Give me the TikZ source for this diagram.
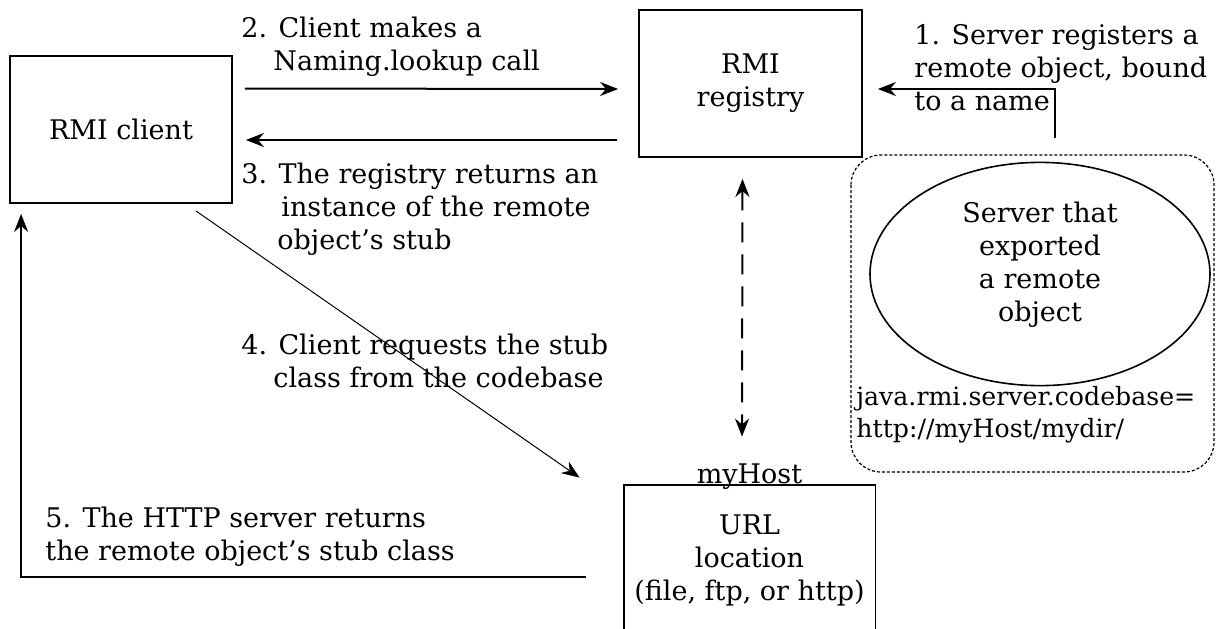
\documentclass[tikz,border=0pt]{standalone}
\usepackage{fontspec}
\setmainfont{DejaVu Serif}
\usetikzlibrary{arrows.meta,shapes.geometric}

\tikzset{
  box/.style={draw, line width=0.9pt},
  arr/.style={line width=1pt, -{Stealth[length=9pt,width=7pt]}},
  dbl/.style={line width=1pt, dash pattern=on 10pt off 6pt, {Stealth[length=9pt,width=7pt]}-{Stealth[length=9pt,width=7pt]}},
  grp/.style={line width=0.6pt, dash pattern=on 1.5pt off 1pt, rounded corners=15pt},
  lbl/.style={anchor=north west, align=left, inner sep=0pt},
}

\begin{document}
\begin{tikzpicture}[x=0.5pt, y=-0.5pt, font=\fontsize{13.5}{16.5}\selectfont]
	\useasboundingbox (0,0) rectangle (1216,628);
	
	% client und registry
	\node[box, minimum width=111pt, minimum height=73.5pt] (client) at (121,129.5) {RMI client};
	\node[box, align=center, minimum width=111.5pt, minimum height=73.5pt] (reg) at (750.5,83.5) {RMI\\registry};
	
	% URL location, unten offen
	\node[align=center, minimum width=125.5pt, minimum height=75pt] (url) at (749.5,560) {URL\\location\\(file, ftp, or http)};
	\draw[line width=0.9pt] (url.south west) -- (url.north west) -- (url.north east) -- (url.south east);
	\node[anchor=base, inner sep=0pt] (host) at ([yshift=0.5pt]url.north) {myHost};
	
	% server
	\draw[grp] (851,155) rectangle (1214,472);
	\node[ellipse, draw, line width=0.8pt, minimum width=170pt, minimum height=108pt, align=center] (server) at (1040,274) {Server that\\exported\\a remote\\object\\[-4pt]};
	\node[anchor=west, align=left, inner sep=0pt, font=\fontsize{12.6}{16}\selectfont] (cb) at (856,415) {java.rmi.server.codebase=\\http://myHost/mydir/};
	
	% Pfeile
	\coordinate (bind) at (1055,138);
	\draw[arr] (bind) |- ([shift={(15,5.5)}]reg.east);
	\draw[arr] ([shift={(12,-41)}]client.east) -- ([shift={(-20,5.5)}]reg.west);
	\draw[arr] ([shift={(-21,56.5)}]reg.west) -- ([shift={(13,10.5)}]client.east);
	\draw[arr, line width=0.5pt] ([shift={(-37,7)}]client.south east) -- ([shift={(-44,-7)}]url.north west);
	\draw[arr] ([shift={(-38,17)}]url.west) -| ([shift={(12,10)}]client.south west);
	\draw[dbl] ([shift={(-8,21)}]reg.south) -- ([shift={(-7.5,-48)}]url.north);
	
	% Beschriftung
	\node[lbl] (l1) at (914,24) {1. Server registers a\\remote object, bound\\to a name};
	\node[lbl] (l2) at (241,17) {2. Client makes a\\\hspace*{16pt}Naming.lookup call};
	\node[lbl] (l3) at (241,163) {3. The registry returns an\\\hspace*{20pt}instance of the remote\\\hspace*{18pt}object’s stub};
	\node[lbl] (l4) at (241,334) {4. Client requests the stub\\\hspace*{16pt}class from the codebase};
	\node[lbl] (l5) at (45,507) {5. The HTTP server returns\\the remote object’s stub class};
	
\end{tikzpicture}
\end{document}
